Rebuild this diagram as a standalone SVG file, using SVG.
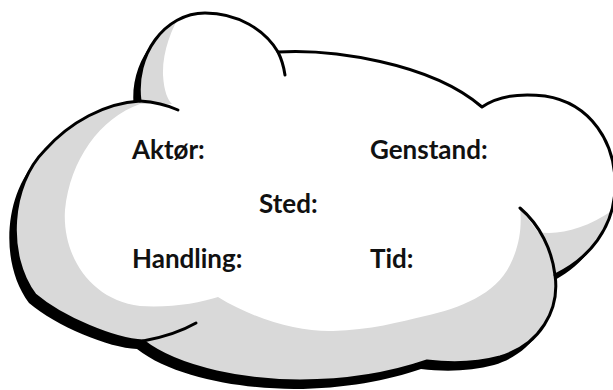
<svg xmlns="http://www.w3.org/2000/svg" width="613" height="390" viewBox="0 0 613 390">
  <defs>
    <path id="cloudPath" d="M140,101 C134,55 165,13 205,13 C238,13 265,30 278,52 C330,49 430,62 482,107 C498,96 520,93 545,96 C590,103 617,142 615,190 C613,228 590,258 555,275 C560,310 540,345 500,357 C478,363 452,364 427,361 C395,372 350,381 300,381 C250,381 180,370 143,341 C115,340 62,318 35,295 C5,255 10,185 45,150 C70,122 105,103 140,101 Z"/>
    <clipPath id="cloudClip">
      <use href="#cloudPath"/>
    </clipPath>
  </defs>
  <style>
    .outline { fill: none; stroke: #000; stroke-width: 3; stroke-linejoin: round; }
    .tail { fill: none; stroke: #000; stroke-width: 3; stroke-linecap: round; }
    .label { font-family: Lato, "Open Sans", "Liberation Sans", sans-serif; font-weight: 700; font-size: 26px; fill: #111; }
  </style>
  <rect width="613" height="390" fill="#fff"/>
  <g id="cloud">
    <use href="#cloudPath" transform="translate(-6,8)" fill="#000"/>
    <use href="#cloudPath" fill="#d9d9d9"/>
    <path clip-path="url(#cloudClip)" fill="#fff" d="M190,0 C178,15 162,45 163,75 C164,92 168,100 172,104 L140,104 C100,118 70,160 65,210 C62,255 90,300 140,306 C170,308 200,303 218,297 C255,320 300,332 333,331 C370,330 400,322 425,316 C460,308 495,295 510,265 C520,245 522,225 520,208 L538,232 C560,236 590,228 620,205 L640,205 L640,0 Z"/>
    <use href="#cloudPath" class="outline"/>
    <path class="tail" d="M278,52 C282,60 284,68 285,75"/>
    <path class="tail" d="M140,101 C155,102 167,105 178,110"/>
    <path class="tail" d="M143,341 C165,337 182,331 196,323"/>
    <path class="tail" d="M555,275 C552,250 540,225 520,208"/>
  </g>
  <g id="connectors"></g>
  <g id="label-aktor"><text class="label" x="132" y="159">Aktør:</text></g>
  <g id="label-genstand"><text class="label" x="370" y="159">Genstand:</text></g>
  <g id="label-sted"><text class="label" x="259" y="213">Sted:</text></g>
  <g id="label-handling"><text class="label" x="132" y="268">Handling:</text></g>
  <g id="label-tid"><text class="label" x="370" y="268">Tid:</text></g>
</svg>
